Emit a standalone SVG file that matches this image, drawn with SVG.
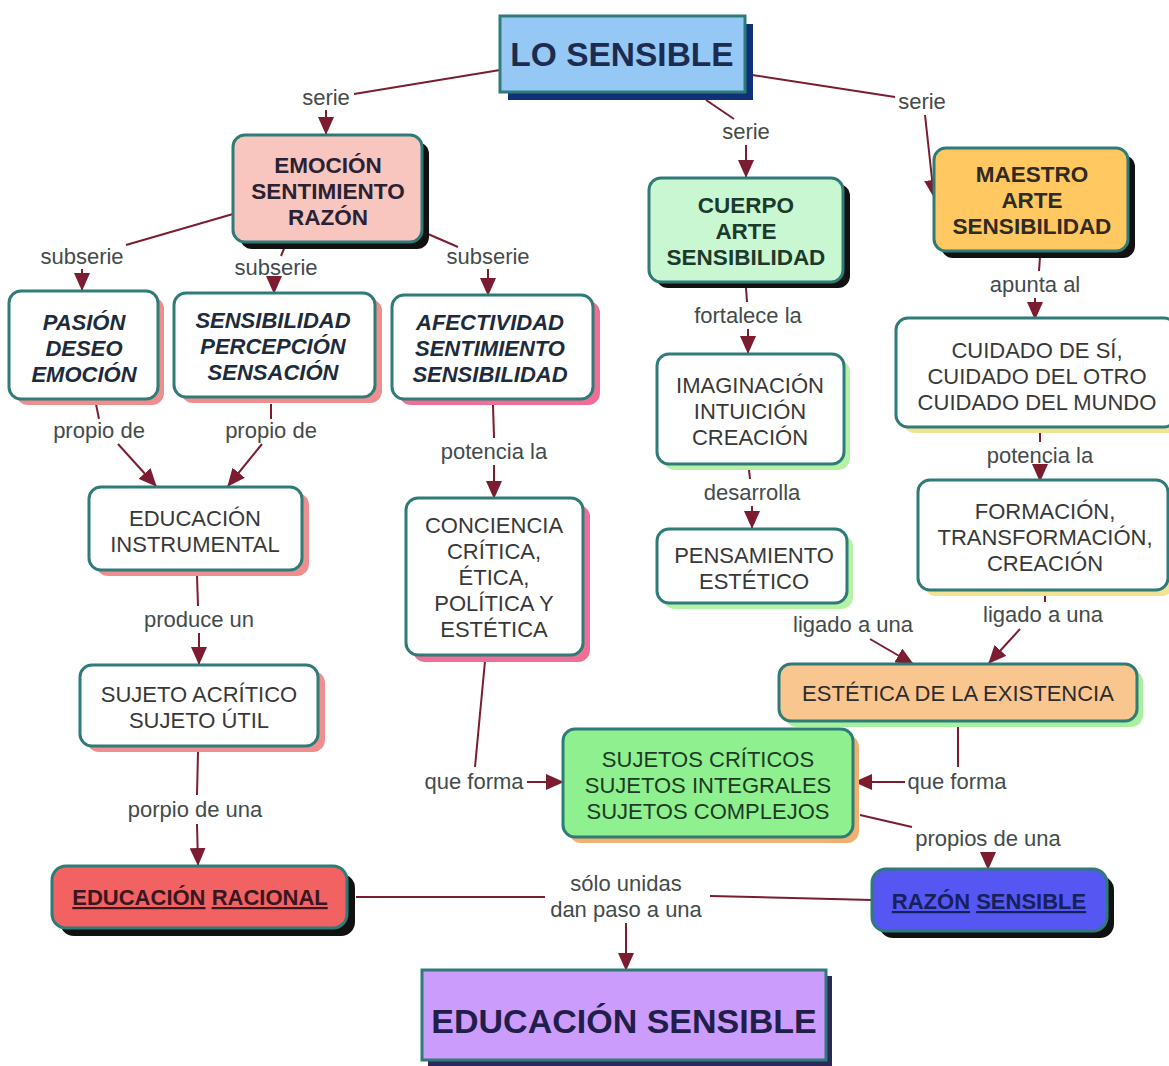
<svg xmlns="http://www.w3.org/2000/svg" width="1169" height="1066" viewBox="0 0 1169 1066">
<defs>
<marker id="ah" viewBox="0 0 18 16" refX="17" refY="8" markerWidth="18" markerHeight="16" markerUnits="userSpaceOnUse" orient="auto"><path d="M0,0 L18,8 L0,16 z" fill="#7b1c30"/></marker>
<style>
text{font-family:"Liberation Sans",Arial,sans-serif;text-anchor:middle}
.box{stroke:#2e7b78;stroke-width:3}
.w{fill:#ffffff}
.b{font-weight:bold;font-size:22.5px;fill:#1d2b3c}
.bi{font-weight:bold;font-style:italic;font-size:22px;fill:#1d2b3c}
.r{font-size:22px;fill:#383838}
.lbl{font-size:22px;fill:#434b4b}
.edge{stroke:#7b1c30;stroke-width:2;fill:none}
.arr{marker-end:url(#ah)}
.u{text-decoration:underline}
</style>
</defs>
<rect width="1169" height="1066" fill="#ffffff"/>

<g id="connectors">
<path class="edge" d="M500,70 L354,94"/>
<text class="lbl" x="326" y="105">serie</text>
<path class="edge arr" d="M326,110 L326,134"/>

<path class="edge" d="M706,100 L734,119"/>
<text class="lbl" x="746" y="139">serie</text>
<path class="edge arr" d="M746,145 L746,177"/>

<path class="edge" d="M752,75 L895,97"/>
<text class="lbl" x="922" y="109">serie</text>
<path class="edge arr" d="M925,115 L934,197"/>

<path class="edge" d="M233,214 L126,245"/>
<text class="lbl" x="82" y="264">subserie</text>
<path class="edge arr" d="M82,269 L82,290"/>

<path class="edge" d="M286,244 L281,256"/>
<text class="lbl" x="276" y="275">subserie</text>
<path class="edge arr" d="M274,279 L274,293"/>

<path class="edge" d="M428,234 L458,247"/>
<text class="lbl" x="488" y="264">subserie</text>
<path class="edge arr" d="M488,269 L488,295"/>

<path class="edge" d="M96,404 L99,419"/>
<text class="lbl" x="99" y="438">propio de</text>
<path class="edge arr" d="M118,444 L156,486"/>

<path class="edge" d="M271,404 L271,419"/>
<text class="lbl" x="271" y="438">propio de</text>
<path class="edge arr" d="M262,444 L228,486"/>

<path class="edge" d="M493,405 L494,438"/>
<text class="lbl" x="494" y="459">potencia la</text>
<path class="edge arr" d="M494,465 L494,498"/>

<path class="edge" d="M197,576 L198,606"/>
<text class="lbl" x="199" y="627">produce un</text>
<path class="edge arr" d="M199,633 L199,664"/>

<path class="edge" d="M198,752 L197,795"/>
<text class="lbl" x="195" y="817">porpio de una</text>
<path class="edge arr" d="M197,824 L198,865"/>

<path class="edge" d="M485,661 L475,767"/>
<text class="lbl" x="474" y="789">que forma</text>
<path class="edge arr" d="M527,782 L563,782"/>

<path class="edge" d="M746,288 L747,302"/>
<text class="lbl" x="748" y="323">fortalece la</text>
<path class="edge arr" d="M748,329 L748,353"/>

<path class="edge" d="M749,470 L750,479"/>
<text class="lbl" x="752" y="500">desarrolla</text>
<path class="edge arr" d="M752,506 L752,528"/>

<path class="edge" d="M1040,257 L1039,271"/>
<text class="lbl" x="1035" y="292">apunta al</text>
<path class="edge arr" d="M1035,298 L1035,319"/>

<path class="edge" d="M1040,433 L1040,442"/>
<text class="lbl" x="1040" y="463">potencia la</text>
<path class="edge arr" d="M1040,469 L1040,481"/>

<text class="lbl" x="853" y="632">ligado a una</text>
<path class="edge arr" d="M870,639 L913,664"/>

<path class="edge" d="M1045,595 L1045,602"/>
<text class="lbl" x="1043" y="622">ligado a una</text>
<path class="edge arr" d="M1020,629 L989,663"/>

<path class="edge" d="M958,725 L958,767"/>
<text class="lbl" x="957" y="789">que forma</text>
<path class="edge arr" d="M905,782 L855,782"/>

<path class="edge" d="M860,815 L912,827"/>
<text class="lbl" x="988" y="846">propios de una</text>
<path class="edge arr" d="M988,852 L988,869"/>

<path class="edge" d="M356,897 L545,897"/>
<path class="edge" d="M872,900 L710,896"/>
<text class="lbl" x="626" y="891">sólo unidas</text>
<text class="lbl" x="626" y="917">dan paso a una</text>
<path class="edge arr" d="M626,923 L626,970"/>
</g>

<g id="n-lo-sensible">
<rect x="508" y="24" width="245" height="76" fill="#10307a"/>
<rect class="box" x="500" y="16" width="245" height="76" fill="#96c8f5"/>
<text x="622" y="66" style="font-weight:bold;font-size:33.5px;fill:#1c2c50">LO SENSIBLE</text>
</g>

<g id="n-emocion">
<rect x="240" y="142" width="189" height="107" rx="12" fill="#111"/>
<rect class="box" x="233" y="135" width="189" height="107" rx="12" fill="#f9c5bf"/>
<text class="b" x="328" y="173" style="fill:#2a2232">EMOCIÓN</text>
<text class="b" x="328" y="199" style="fill:#2a2232">SENTIMIENTO</text>
<text class="b" x="328" y="225" style="fill:#2a2232">RAZÓN</text>
</g>

<g id="n-pasion">
<rect x="16" y="297" width="148" height="108" rx="12" fill="#ee8e8e"/>
<rect class="box w" x="9" y="291" width="149" height="108" rx="12"/>
<text class="bi" x="84" y="330">PASIÓN</text>
<text class="bi" x="84" y="356">DESEO</text>
<text class="bi" x="84" y="382">EMOCIÓN</text>
</g>

<g id="n-sensibilidad">
<rect x="181" y="299" width="201" height="104" rx="12" fill="#ee8e8e"/>
<rect class="box w" x="174" y="293" width="201" height="104" rx="12"/>
<text class="bi" x="273" y="328">SENSIBILIDAD</text>
<text class="bi" x="273" y="354">PERCEPCIÓN</text>
<text class="bi" x="273" y="380">SENSACIÓN</text>
</g>

<g id="n-afectividad">
<rect x="399" y="301" width="201" height="104" rx="12" fill="#ef6f96"/>
<rect class="box w" x="392" y="295" width="201" height="104" rx="12"/>
<text class="bi" x="490" y="330">AFECTIVIDAD</text>
<text class="bi" x="490" y="356">SENTIMIENTO</text>
<text class="bi" x="490" y="382">SENSIBILIDAD</text>
</g>

<g id="n-cuerpo">
<rect x="656" y="184" width="194" height="104" rx="12" fill="#111"/>
<rect class="box" x="649" y="178" width="194" height="104" rx="12" fill="#c9f7d2"/>
<text class="b" x="746" y="213" style="fill:#1c3a2c">CUERPO</text>
<text class="b" x="746" y="239" style="fill:#1c3a2c">ARTE</text>
<text class="b" x="746" y="265" style="fill:#1c3a2c">SENSIBILIDAD</text>
</g>

<g id="n-maestro">
<rect x="941" y="155" width="194" height="103" rx="12" fill="#111"/>
<rect class="box" x="934" y="148" width="194" height="103" rx="12" fill="#ffc860"/>
<text class="b" x="1032" y="182" style="fill:#2e2a24">MAESTRO</text>
<text class="b" x="1032" y="208" style="fill:#2e2a24">ARTE</text>
<text class="b" x="1032" y="234" style="fill:#2e2a24">SENSIBILIDAD</text>
</g>

<g id="n-educ-instrumental">
<rect x="96" y="493" width="213" height="83" rx="12" fill="#ee8e8e"/>
<rect class="box w" x="89" y="487" width="213" height="83" rx="12"/>
<text class="r" x="195" y="526">EDUCACIÓN</text>
<text class="r" x="195" y="552">INSTRUMENTAL</text>
</g>

<g id="n-conciencia">
<rect x="413" y="505" width="177" height="157" rx="12" fill="#ef6f96"/>
<rect class="box w" x="406" y="498" width="177" height="157" rx="12"/>
<text class="r" x="494" y="533">CONCIENCIA</text>
<text class="r" x="494" y="559">CRÍTICA,</text>
<text class="r" x="494" y="585">ÉTICA,</text>
<text class="r" x="494" y="611">POLÍTICA Y</text>
<text class="r" x="494" y="637">ESTÉTICA</text>
</g>

<g id="n-imaginacion">
<rect x="663" y="360" width="187" height="110" rx="12" fill="#b4f2a6"/>
<rect class="box w" x="657" y="354" width="187" height="110" rx="12"/>
<text class="r" x="750" y="393">IMAGINACIÓN</text>
<text class="r" x="750" y="419">INTUICIÓN</text>
<text class="r" x="750" y="445">CREACIÓN</text>
</g>

<g id="n-pensamiento">
<rect x="663" y="535" width="190" height="74" rx="12" fill="#b4f2a6"/>
<rect class="box w" x="657" y="529" width="190" height="74" rx="12"/>
<text class="r" x="754" y="563">PENSAMIENTO</text>
<text class="r" x="754" y="589">ESTÉTICO</text>
</g>

<g id="n-cuidado">
<rect x="903" y="324" width="280" height="109" rx="12" fill="#f2e294"/>
<rect class="box w" x="896" y="318" width="280" height="109" rx="12"/>
<text class="r" x="1037" y="358">CUIDADO DE SÍ,</text>
<text class="r" x="1037" y="384">CUIDADO DEL OTRO</text>
<text class="r" x="1037" y="410">CUIDADO DEL MUNDO</text>
</g>

<g id="n-formacion">
<rect x="924" y="486" width="250" height="110" rx="12" fill="#f2e294"/>
<rect class="box w" x="918" y="480" width="250" height="110" rx="12"/>
<text class="r" x="1045" y="519">FORMACIÓN,</text>
<text class="r" x="1045" y="545">TRANSFORMACIÓN,</text>
<text class="r" x="1045" y="571">CREACIÓN</text>
</g>

<g id="n-estetica">
<rect x="785" y="670" width="358" height="57" rx="12" fill="#a8f0a0"/>
<rect class="box" x="779" y="664" width="358" height="57" rx="12" fill="#f9c690"/>
<text class="r" x="958" y="701" style="fill:#2c2c2c">ESTÉTICA DE LA EXISTENCIA</text>
</g>

<g id="n-sujetos">
<rect x="569" y="735" width="290" height="108" rx="12" fill="#f2b070"/>
<rect class="box" x="563" y="729" width="290" height="108" rx="12" fill="#8ef08e"/>
<text class="r" x="708" y="767" style="fill:#1e3a26">SUJETOS CRÍTICOS</text>
<text class="r" x="708" y="793" style="fill:#1e3a26">SUJETOS INTEGRALES</text>
<text class="r" x="708" y="819" style="fill:#1e3a26">SUJETOS COMPLEJOS</text>
</g>

<g id="n-sujeto-acritico">
<rect x="87" y="671" width="238" height="81" rx="12" fill="#ee8e8e"/>
<rect class="box w" x="80" y="665" width="238" height="81" rx="12"/>
<text class="r" x="199" y="702">SUJETO ACRÍTICO</text>
<text class="r" x="199" y="728">SUJETO ÚTIL</text>
</g>

<g id="n-educ-racional">
<rect x="60" y="874" width="295" height="62" rx="14" fill="#111"/>
<rect class="box" x="52" y="866" width="295" height="62" rx="14" fill="#f26262"/>
<text class="b" x="200" y="905" style="fill:#3a1620;font-size:22px"><tspan class="u">EDUCACIÓN</tspan> <tspan class="u">RACIONAL</tspan></text>
</g>

<g id="n-razon-sensible">
<rect x="879" y="876" width="235" height="62" rx="14" fill="#111"/>
<rect class="box" x="872" y="869" width="235" height="62" rx="14" fill="#5656f2"/>
<text class="b" x="989" y="909" style="fill:#16205a;font-size:22px"><tspan class="u">RAZÓN</tspan> <tspan class="u">SENSIBLE</tspan></text>
</g>

<g id="n-educ-sensible">
<rect x="428" y="976" width="404" height="90" fill="#2a2a5a"/>
<rect class="box" x="422" y="970" width="404" height="90" fill="#cc9cfc"/>
<text x="624" y="1033" style="font-weight:bold;font-size:34px;fill:#221e4a">EDUCACIÓN SENSIBLE</text>
</g>
</svg>
